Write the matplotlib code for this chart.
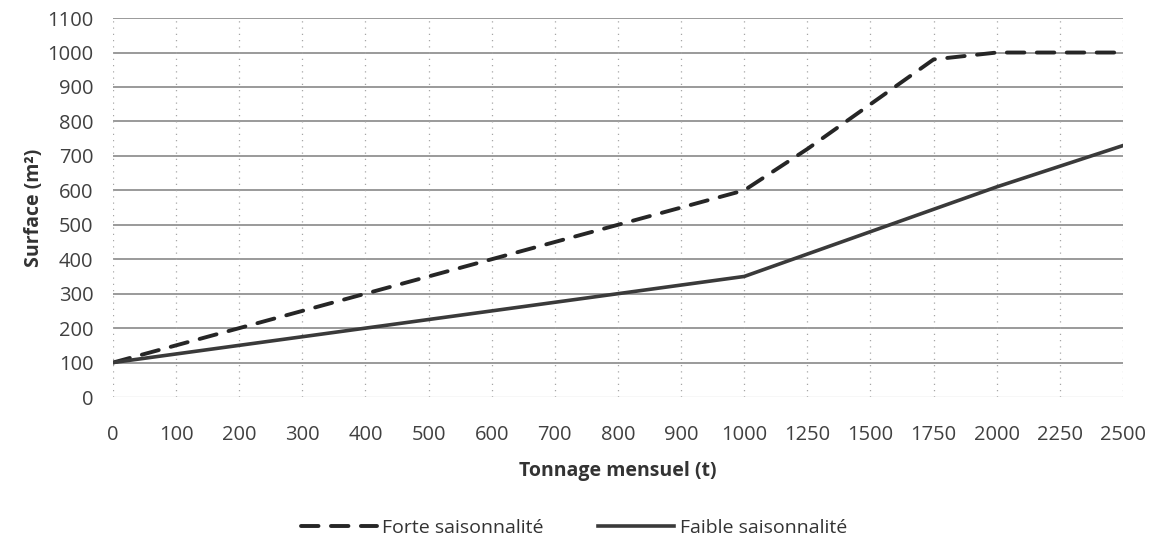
import numpy as np
import matplotlib.pyplot as plt

plt.rcParams['font.family'] = ['Open Sans', 'DejaVu Sans']

# categories along x (equally spaced in the original chart)
tonnage = ["0", "100", "200", "300", "400", "500", "600", "700", "800", "900",
           "1000", "1250", "1500", "1750", "2000", "2250", "2500"]
forte = [100, 150, 200, 250, 300, 350, 400, 450, 500, 550,
         600, 720, 850, 980, 1000, 1000, 1000]
faible = [100, 125, 150, 175, 200, 225, 250, 275, 300, 325,
          350, 415, 480, 545, 610, 670, 730]
yticks = list(range(0, 1101, 100))

fig = plt.figure(figsize=(11.55, 5.48), dpi=100)
ax = fig.add_axes([0.0978, 0.2755, 0.8745, 0.6915])

pos = np.arange(len(tonnage))

# horizontal grid
for y in yticks[1:]:
    ax.axhline(y, color="#7f7f7f", lw=1.1, zorder=1)
ax.axhline(0, color="#d9d9d9", lw=1.0, zorder=1)
# dotted vertical grid (faint, as on the scan)
for p in pos:
    ax.axvline(p, color="#a6a6a6", lw=0.9, ls=(0, (1, 4)), zorder=1)

ax.plot(pos, forte, color="#262626", lw=2.8, dashes=[4.5, 3.2],
        solid_capstyle="round", dash_capstyle="round", zorder=3,
        label="Forte saisonnalité")
ax.plot(pos, faible, color="#3a3a3a", lw=2.6, zorder=3,
        label="Faible saisonnalité")

ax.set_xlim(0, len(tonnage) - 1)
ax.set_ylim(0, 1100)
ax.set_xticks(pos)
ax.set_xticklabels(tonnage)
ax.set_yticks(yticks)
for s in ax.spines.values():
    s.set_visible(False)
ax.tick_params(length=0, labelsize=14.5, labelcolor="#404040")
ax.tick_params(axis="x", pad=20)
ax.tick_params(axis="y", pad=14)

ax.set_xlabel("Tonnage mensuel (t)", fontsize=14, fontweight="bold",
              color="#333333", labelpad=12)
ax.set_ylabel("Surface (m²)", fontsize=14, fontweight="bold",
              color="#333333", labelpad=2)

fig.legend(loc="lower center", bbox_to_anchor=(0.497, -0.012), ncol=2,
           frameon=False, fontsize=14, handlelength=3.9, handletextpad=0.3,
           columnspacing=2.8, labelcolor="#333333")

fig.savefig("out.png", dpi=100)
